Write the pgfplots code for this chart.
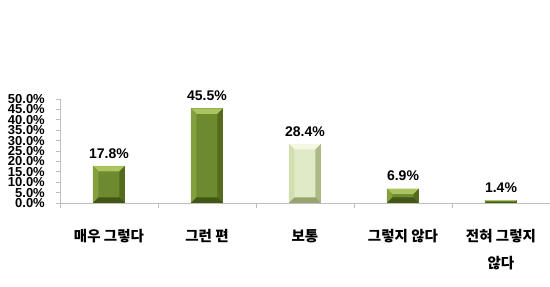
\documentclass[border=0pt]{standalone}
\usepackage{fontspec}
\usepackage{pgfplots}
\pgfplotsset{compat=1.18}
\setmainfont{Liberation Sans}
\newfontfamily\krfont{Noto Sans CJK KR}

\definecolor{olfront}{RGB}{110,138,46}
\definecolor{oltop}{RGB}{172,196,96}
\definecolor{olleft}{RGB}{132,160,62}
\definecolor{olright}{RGB}{84,106,30}
\definecolor{olbottom}{RGB}{66,86,22}
\definecolor{pafront}{RGB}{224,234,198}
\definecolor{patop}{RGB}{244,248,226}
\definecolor{paleft}{RGB}{210,222,176}
\definecolor{paright}{RGB}{172,186,134}
\definecolor{pabottom}{RGB}{150,164,112}
\definecolor{axgray}{RGB}{190,190,190}

% one facet of a bevelled bar, drawn with the basic layer
\newcommand\bevfacet[5]{%
  \pgfpathmoveto{#2}\pgfpathlineto{#3}\pgfpathlineto{#4}\pgfpathlineto{#5}\pgfpathclose
  \pgfsetfillcolor{#1}\pgfusepath{fill}}

% facets of one bar inside its bounding box
\newcommand\bevbar[4]{%
  \pgfpointanchor{path picture bounding box}{south west}%
  \pgfgetlastxy{\bvLx}{\bvLy}%
  \pgfpointanchor{path picture bounding box}{north east}%
  \pgfgetlastxy{\bvRx}{\bvRy}%
  \ifdim\bvRy>\bvLy\relax\ifdim\bvRx>\bvLx\relax
    \ifdim\dimexpr\bvRy-\bvLy\relax<2000pt
      \dimen2=\dimexpr\bvRy-\bvLy\relax
      \dimen2=0.45\dimen2
      \ifdim\dimen2>5.5pt \dimen2=5.5pt \fi
      \edef\bvLxi{\the\dimexpr\bvLx+\dimen2\relax}%
      \edef\bvRxi{\the\dimexpr\bvRx-\dimen2\relax}%
      \edef\bvLyi{\the\dimexpr\bvLy+\dimen2\relax}%
      \edef\bvRyi{\the\dimexpr\bvRy-\dimen2\relax}%
      \bevfacet{#1}{\pgfqpoint{\bvLx}{\bvRy}}{\pgfqpoint{\bvRx}{\bvRy}}{\pgfqpoint{\bvRxi}{\bvRyi}}{\pgfqpoint{\bvLxi}{\bvRyi}}%
      \bevfacet{#2}{\pgfqpoint{\bvLx}{\bvLy}}{\pgfqpoint{\bvLx}{\bvRy}}{\pgfqpoint{\bvLxi}{\bvRyi}}{\pgfqpoint{\bvLxi}{\bvLyi}}%
      \bevfacet{#3}{\pgfqpoint{\bvRx}{\bvLy}}{\pgfqpoint{\bvRx}{\bvRy}}{\pgfqpoint{\bvRxi}{\bvRyi}}{\pgfqpoint{\bvRxi}{\bvLyi}}%
      \bevfacet{#4}{\pgfqpoint{\bvLx}{\bvLy}}{\pgfqpoint{\bvRx}{\bvLy}}{\pgfqpoint{\bvRxi}{\bvLyi}}{\pgfqpoint{\bvLxi}{\bvLyi}}%
    \fi
  \fi\fi}

% bevelled bar: front, top, left, right, bottom facet colours
\pgfplotsset{
  bevel/.style n args={5}{
    fill=#1, draw=none,
    path picture={\bevbar{#2}{#3}{#4}{#5}}
  },
  olive/.style={bevel={olfront}{oltop}{olleft}{olright}{olbottom}},
  pale/.style={bevel={pafront}{patop}{paleft}{paright}{pabottom}},
  onebar/.style={ybar, bar width=32pt, bar shift=0pt},
}

\begin{document}
\begin{tikzpicture}
\useasboundingbox (0,0) rectangle (550pt,287pt);
\begin{axis}[
  at={(60pt,84pt)}, anchor=south west,
  scale only axis, width=490pt, height=104pt,
  xmin=-0.5, xmax=4.5, ymin=0, ymax=50,
  axis lines*=left,
  axis line style={axgray, line width=0.8pt},
  xtick={0,...,4},
  xticklabels={매우 그렇다, 그런 편, 보통, 그렇지 않다, {전혀 그렇지\\[11pt]않다}},
  xticklabel style={font=\krfont\bfseries\fontsize{14.5}{16}\selectfont, align=center, anchor=north, yshift=-19pt},
  minor xtick={-0.5,0.5,...,4.5},
  major x tick style={draw=none},
  minor x tick style={axgray, line width=0.8pt},
  minor tick length=5pt,
  ytick={0,5,...,50},
  major tick length=4pt,
  tick align=outside,
  y tick style={axgray, line width=0.8pt},
  /pgf/number format/assume math mode=true,
  yticklabel={\pgfmathprintnumber[fixed,fixed zerofill,precision=1]{\tick}\%},
  yticklabel style={font=\bfseries\fontsize{13}{13}\selectfont, inner sep=0pt, xshift=-11pt},
  clip=false,
]
\addplot[onebar, olive] coordinates {(0,17.8)};
\addplot[onebar, olive] coordinates {(1,45.5)};
\addplot[onebar, pale]  coordinates {(2,28.4)};
\addplot[onebar, olive] coordinates {(3,6.9)};
\addplot[onebar, olive] coordinates {(4,1.4)};
% value labels above the bars
\addplot[draw=none, mark=none, point meta=explicit,
  nodes near coords={\pgfmathprintnumber[fixed,fixed zerofill,precision=1]{\pgfplotspointmeta}\%},
  every node near coord/.append style={anchor=south, font=\bfseries\fontsize{14}{16}\selectfont, text=black, yshift=4pt}]
  coordinates {(0,17.8)[17.8] (1,45.5)[45.5] (2,28.4)[28.4] (3,6.9)[6.9] (4,1.4)[1.4]};
\end{axis}
\end{tikzpicture}
\end{document}
